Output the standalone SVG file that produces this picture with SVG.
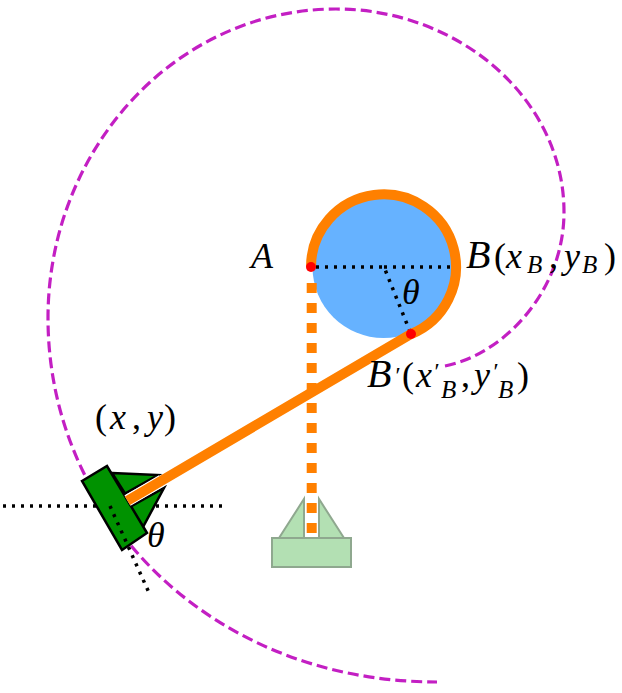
<svg xmlns="http://www.w3.org/2000/svg" width="622" height="693" viewBox="0 0 622 693">
<style>
.t{font-family:"Liberation Serif","DejaVu Serif",serif;font-size:36px;fill:#000}
.i{font-style:italic}
.l{font-size:40px;font-style:italic}
.s{font-size:25px;font-style:italic}
.p{font-size:24px;font-style:italic}
.dot{fill:none;stroke:#000;stroke-width:3.5;stroke-dasharray:3 6}
.k{stroke:#000;stroke-width:2.5;fill:#009200;stroke-linejoin:miter}
.b{fill:#b3e0b3;stroke:#8fa88f;stroke-width:2}
</style>
<rect width="622" height="693" fill="#fff"/>
<g id="pulley"><circle cx="383.5" cy="267" r="71" fill="#66b2ff"/></g>
<g id="base">
<path class="b" d="M279 538L304 499V538ZM344 538L319 499V538Z"/>
<rect class="b" x="272" y="538" width="79" height="29"/>
</g>
<g id="connectors">
<path d="M445 366C505 354 564 290 564 212C564 100 460 9 336 9C175 9 48 150 48 318C48 515 210 682 437 682" fill="none" stroke="#c31fc3" stroke-width="3.2" stroke-dasharray="11 5"/>
<path d="M311.7 283V534" fill="none" stroke="#ff8000" stroke-width="10" stroke-dasharray="10 10"/>
<path d="M3 506H222" class="dot"/>
<path d="M384 267H452" class="dot"/>
<path d="M316 267H384L411 334" class="dot"/>
</g>
<g id="carriage">
<path class="k" d="M112 473L158 475L125 493.5ZM164 488L143 527L130 507Z"/>
<path class="k" d="M82 481L107 466L147 533L122 550Z"/>
<path d="M110 506L150 595" class="dot"/>
<path d="M127.5 500.7L162 480.4" stroke="#fff" stroke-width="12" fill="none"/>
</g>
<g id="belt">
<path d="M127.5 500.7L411 334A72.5 72.5 0 1 0 311 267" fill="none" stroke="#ff8000" stroke-width="10"/>
<circle cx="311" cy="267" r="5" fill="#f00"/><circle cx="411" cy="334" r="5" fill="#f00"/>
</g>
<g id="labels">
<text class="t i" x="251" y="268">A</text>
<text class="t" y="268"><tspan class="l" x="466">B</tspan><tspan x="494">(</tspan><tspan class="i" x="506">x</tspan><tspan class="s" x="527" dy="5">B</tspan><tspan x="549" dy="-5">,</tspan><tspan class="i" x="564">y</tspan><tspan class="s" x="582" dy="5">B</tspan><tspan x="604" dy="-5">)</tspan></text>
<text class="t i" x="402" y="304">θ</text>
<text class="t" y="387"><tspan class="l" x="367">B</tspan><tspan class="p" x="394" dy="-4">′</tspan><tspan x="402" dy="4">(</tspan><tspan class="i" x="416">x</tspan><tspan class="p" x="433" dy="-8">′</tspan><tspan class="s" x="441" dy="19">B</tspan><tspan x="461" dy="-11">,</tspan><tspan class="i" x="474">y</tspan><tspan class="p" x="492" dy="-8">′</tspan><tspan class="s" x="498" dy="19">B</tspan><tspan x="517" dy="-11">)</tspan></text>
<text class="t" y="429"><tspan x="95">(</tspan><tspan class="i" x="110">x</tspan><tspan x="132">,</tspan><tspan class="i" x="147">y</tspan><tspan x="164">)</tspan></text>
<text class="t i" x="147" y="547">θ</text>
</g>
</svg>
